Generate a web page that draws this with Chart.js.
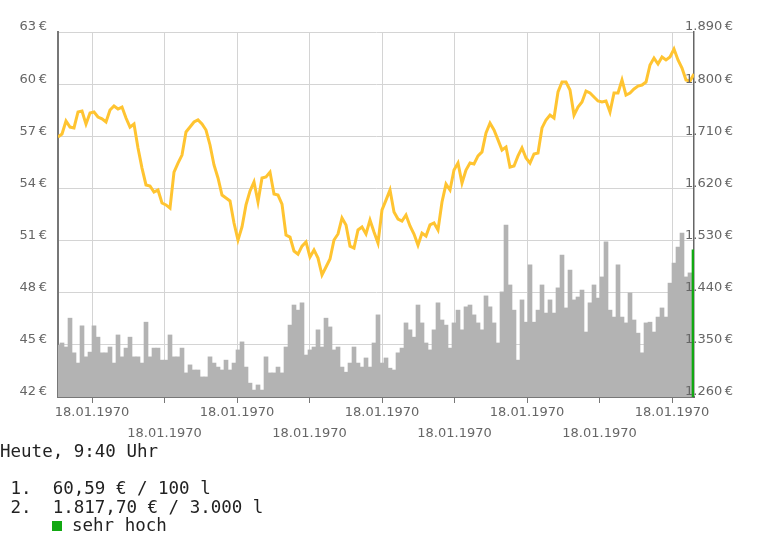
<!DOCTYPE html>
<html>
<head>
<meta charset="utf-8">
<script src="https://cdn.jsdelivr.net/npm/chart.js@4/dist/chart.umd.min.js"></script>
<style>
    body { margin: 0; background: #fff; }
    #wrap { position: relative; width: 768px; height: 442px; }
    #info {
        position: absolute; left: 0; top: 442px;
        font-family: "DejaVu Sans Mono", monospace; font-size: 17.5px; line-height: 18.5px;
        color: #222; white-space: pre;
    }
    .sq { display: inline-block; width: 10px; height: 10px; background: #12a812; margin: 0 10px 0 52px; }
</style>
</head>
<body>
<div id="wrap"><canvas id="chart"></canvas></div>
<div id="info">Heute, 9:40 Uhr

 1.  60,59&#8239;€ / 100&#8239;l
 2.  1.817,70&#8239;€ / 3.000&#8239;l
<span class="sq"></span>sehr hoch</div>
<script>
// sample days (index), price per 100 l, volume (relative)
const days = Array.from({ length: 160 }, (_, i) => i);

const price = [
    56.96, 57.13, 57.88, 57.53, 57.48, 58.40, 58.45, 57.70, 58.34, 58.40,
    58.11, 58.00, 57.82, 58.51, 58.74, 58.57, 58.68, 58.05, 57.53, 57.71,
    56.33, 55.17, 54.20, 54.14, 53.79, 53.91, 53.16, 53.05, 52.87, 54.94,
    55.46, 55.92, 57.25, 57.53, 57.82, 57.94, 57.71, 57.36, 56.50, 55.35,
    54.60, 53.62, 53.45, 53.28, 52.01, 51.03, 51.78, 53.05, 53.85, 54.37,
    53.22, 54.60, 54.66, 54.94, 53.68, 53.62, 53.10, 51.32, 51.20, 50.40,
    50.22, 50.68, 50.92, 50.05, 50.46, 49.99, 49.02, 49.48, 49.94, 51.03,
    51.38, 52.30, 51.90, 50.68, 50.57, 51.61, 51.78, 51.38, 52.18, 51.49,
    50.86, 52.76, 53.33, 53.91, 52.64, 52.24, 52.12, 52.47, 51.84, 51.38,
    50.74, 51.43, 51.26, 51.90, 52.01, 51.61, 53.22, 54.25, 53.91, 55.06,
    55.46, 54.31, 55.06, 55.46, 55.41, 55.87, 56.10, 57.19, 57.76, 57.36,
    56.79, 56.21, 56.38, 55.23, 55.29, 55.87, 56.33, 55.75, 55.46, 55.98,
    56.04, 57.48, 57.94, 58.22, 58.05, 59.55, 60.12, 60.12, 59.66, 58.22,
    58.68, 58.97, 59.60, 59.49, 59.26, 59.03, 58.97, 59.03, 58.40, 59.49,
    59.49, 60.24, 59.37, 59.49, 59.72, 59.89, 59.95, 60.12, 61.10, 61.50,
    61.16, 61.56, 61.39, 61.56, 62.02, 61.39, 60.93, 60.24, 60.18, 60.59
];

const volume = [
    14.2, 14.8, 13.7, 21.6, 12.1, 9.3, 19.5, 11.0, 12.3, 19.5,
    16.4, 12.1, 12.1, 13.7, 9.3, 17.0, 11.0, 13.4, 16.4, 11.0,
    11.0, 9.3, 20.5, 11.0, 13.4, 13.4, 10.1, 10.1, 17.0, 11.0,
    11.0, 13.4, 6.6, 8.8, 7.4, 7.4, 5.5, 5.5, 11.0, 9.3,
    8.2, 7.4, 10.1, 7.4, 9.3, 12.9, 15.1, 8.2, 3.8, 1.9,
    3.3, 1.9, 11.0, 6.6, 6.6, 8.2, 6.6, 13.7, 19.7, 25.2,
    23.8, 25.8, 11.5, 12.9, 13.7, 18.4, 13.7, 21.6, 19.2, 12.9,
    13.7, 8.2, 6.8, 9.3, 13.7, 9.3, 8.2, 10.7, 8.2, 14.8,
    22.5, 9.3, 10.7, 7.9, 7.4, 12.1, 13.4, 20.3, 18.4, 16.4,
    25.2, 20.3, 14.8, 12.9, 18.4, 25.8, 21.1, 19.7, 13.4, 20.3,
    23.8, 18.4, 24.7, 25.2, 22.5, 20.3, 18.4, 27.7, 24.7, 20.3,
    14.8, 28.8, 47.1, 30.7, 23.8, 10.1, 26.6, 20.5, 36.2, 20.5,
    23.8, 30.7, 23.0, 26.6, 23.0, 29.9, 38.9, 24.4, 34.8, 26.6,
    27.4, 29.3, 17.8, 25.8, 30.7, 27.1, 32.9, 42.5, 23.8, 21.9,
    36.2, 21.9, 20.3, 28.5, 21.1, 17.5, 12.1, 20.3, 20.5, 17.8,
    21.9, 24.4, 21.9, 31.2, 36.7, 41.1, 44.9, 32.9, 34.0, 40.3
];

// axis ticks
const priceTicks = [42, 45, 48, 51, 54, 57, 60, 63];
const tankTicks = [1260, 1350, 1440, 1530, 1620, 1710, 1800, 1890];
const dateTicks = [8.5, 26.625, 44.75, 62.875, 81, 99.125, 117.25, 135.375, 153.5];
const dateLabels = ['18.01.1970', '18.01.1970', '18.01.1970', '18.01.1970', '18.01.1970',
    '18.01.1970', '18.01.1970', '18.01.1970', '18.01.1970'];

function euro(v) {
    const s = String(v).replace(/\B(?=(\d{3})+(?!\d))/g, '.');
    return s + '\u202F€';
}

const tickFont = { family: 'DejaVu Sans', size: 13 };

// right axis labels overlap the axis line, chart.js clips them, so draw them here
const rightLabels = {
    id: 'rightLabels',
    afterDraw(chart) {
        const s = chart.scales.y2;
        const ctx = chart.ctx;
        ctx.save();
        ctx.font = '13px "DejaVu Sans"';
        ctx.fillStyle = '#666';
        ctx.textAlign = 'left';
        ctx.textBaseline = 'middle';
        tankTicks.forEach(v => ctx.fillText(euro(v), s.left - 9, s.getPixelForValue(v) - 5));
        ctx.restore();
    }
};

new Chart(document.getElementById('chart'), {
    data: {
        labels: days,
        datasets: [
            {
                type: 'line',
                data: price,
                yAxisID: 'y',
                borderColor: '#ffc431',
                borderWidth: 3,
                pointRadius: 0,
                tension: 0,
                order: 0
            },
            {
                type: 'bar',
                data: volume,
                yAxisID: 'yv',
                backgroundColor: ctx => ctx.dataIndex === volume.length - 1 ? '#12a812' : '#b3b3b3',
                borderWidth: 0,
                barPercentage: 1,
                categoryPercentage: 1,
                order: 1
            }
        ]
    },
    options: {
        responsive: true,
        maintainAspectRatio: false,
        animation: false,
        devicePixelRatio: 1,
        layout: { padding: { top: 32, bottom: 0, left: 0, right: 0 } },
        plugins: { legend: { display: false }, tooltip: { enabled: false } },
        scales: {
            x: {
                type: 'linear',
                offset: false,
                min: 0,
                max: days.length - 1,
                afterBuildTicks: s => { s.ticks = dateTicks.map(v => ({ value: v })); },
                afterFit: s => { s.height = 45; },
                grid: { offset: false, color: '#d4d4d4', tickColor: '#777', tickLength: 6, drawTicks: true },
                border: { color: '#777', width: 2 },
                ticks: {
                    autoSkip: false,
                    maxRotation: 0,
                    padding: 0,
                    color: '#666',
                    font: { ...tickFont, lineHeight: 1.55 },
                    callback: (v, i) => i % 2 ? ['', dateLabels[i]] : dateLabels[i]
                }
            },
            y: {
                position: 'left',
                min: 42,
                max: 63,
                afterBuildTicks: s => { s.ticks = priceTicks.map(v => ({ value: v })); },
                afterFit: s => { s.width = 58; },
                grid: { color: '#d4d4d4', drawTicks: false },
                border: { color: '#777', width: 2 },
                ticks: {
                    padding: 11,
                    labelOffset: -5,
                    color: '#666',
                    font: tickFont,
                    callback: v => euro(v)
                }
            },
            y2: {
                position: 'right',
                min: 1260,
                max: 1890,
                afterBuildTicks: s => { s.ticks = tankTicks.map(v => ({ value: v })); },
                afterFit: s => { s.width = 74; },
                grid: { display: false, drawTicks: false },
                border: { display: true, color: '#666', width: 1.5 },
                ticks: { display: false }
            },
            yv: {
                display: false,
                min: 0,
                max: 100
            }
        }
    },
    plugins: [rightLabels]
});
</script>
</body>
</html>
